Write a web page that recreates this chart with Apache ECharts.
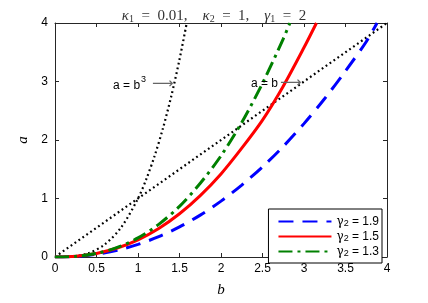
<!DOCTYPE html>
<html>
<head>
<meta charset="utf-8">
<script src="https://cdn.jsdelivr.net/npm/echarts@6/dist/echarts.min.js"></script>
<style>html,body{margin:0;padding:0;background:#fff;}#c{width:428px;height:303px;}</style>
</head>
<body>
<div id="c"></div>
<script>
// ---- data ----
const xTicks = [0, 0.5, 1, 1.5, 2, 2.5, 3, 3.5, 4];
const yTicks = [0, 1, 2, 3, 4];

const bBlue  = [0, 0.25, 0.5, 0.75, 1, 1.25, 1.5, 1.75, 2, 2.25, 2.5, 2.75, 3, 3.25, 3.5, 3.75, 3.88];
const aBlue  = [0, 0.011, 0.048, 0.116, 0.215, 0.347, 0.514, 0.716, 0.955, 1.23, 1.54, 1.89, 2.28, 2.71, 3.18, 3.68, 4.0];

const bRed   = [0, 0.25, 0.5, 0.75, 1, 1.25, 1.5, 1.75, 2, 2.25, 2.5, 2.75, 3, 3.15];
const aRed   = [0, 0.013, 0.061, 0.153, 0.294, 0.488, 0.739, 1.05, 1.42, 1.86, 2.34, 2.92, 3.58, 4.0];

const bGreen = [0, 0.25, 0.5, 0.75, 1, 1.25, 1.5, 1.75, 2, 2.25, 2.5, 2.75, 2.83];
const aGreen = [0, 0.012, 0.061, 0.163, 0.326, 0.558, 0.866, 1.26, 1.73, 2.30, 2.97, 3.73, 4.0];

const bLinear = [0, 4];
const aLinear = [0, 4];

const bCubic = [0, 0.2, 0.4, 0.6, 0.8, 1.0, 1.1, 1.2, 1.3, 1.4, 1.5, 1.587];
const aCubic = [0, 0.008, 0.064, 0.216, 0.512, 1.0, 1.331, 1.728, 2.197, 2.744, 3.375, 4.0];

const legendNames = ['γ2 = 1.9', 'γ2 = 1.5', 'γ2 = 1.3'];
const legendLabels = {'γ2 = 1.9': '1.9', 'γ2 = 1.5': '1.5', 'γ2 = 1.3': '1.3'};

function pairs(xs, ys) { return xs.map((x, i) => [x, ys[i]]); }

const chart = echarts.init(document.getElementById('c'), null, {renderer: 'canvas'});
const axisColor = '#262626';
const tickFont = {color: '#000', fontFamily: 'Liberation Sans, Arial, sans-serif', fontSize: 12};

function mkX(pos, show) {
  return {
    type: 'value', min: 0, max: 4, interval: 0.5, position: pos,
    axisLine: {show: true, onZero: false, lineStyle: {color: axisColor, width: 1}},
    axisTick: {show: true, inside: true, length: 4, lineStyle: {color: axisColor, width: 1}},
    axisLabel: Object.assign({show: show, margin: 6}, tickFont),
    splitLine: {show: false},
    name: show ? 'b' : '', nameLocation: 'middle', nameGap: 26,
    nameTextStyle: {fontFamily: 'Liberation Serif, serif', fontStyle: 'italic', fontSize: 15, color: '#000'}
  };
}
function mkY(pos, show) {
  return {
    type: 'value', min: 0, max: 4, interval: 1, position: pos,
    axisLine: {show: true, onZero: false, lineStyle: {color: axisColor, width: 1}},
    axisTick: {show: true, inside: true, length: 4, lineStyle: {color: axisColor, width: 1}},
    axisLabel: Object.assign({show: show, margin: 7}, tickFont),
    splitLine: {show: false},
    name: show ? 'a' : '', nameLocation: 'middle', nameGap: 22,
    nameTextStyle: {fontFamily: 'Liberation Serif, serif', fontStyle: 'italic', fontSize: 15, color: '#000'}
  };
}

const EN = '\u2002', EM = '\u2003';
const option = {
  animation: false,
  backgroundColor: '#fff',
  title: {
    text: '{i|κ}{s|1}{n|' + EN + '=' + EN + '0.01,' + EM + '}{i|κ}{s|2}{n|' + EN + '=' + EN + '1,' + EM + '}{i|γ}{s|1}{n|' + EN + '=' + EN + '2}',
    left: 'center', top: 3,
    textStyle: {
      fontWeight: 'normal',
      rich: {
        i: {fontFamily: 'Liberation Serif, serif', fontStyle: 'italic', fontWeight: 'normal', fontSize: 15, color: '#333'},
        n: {fontFamily: 'Liberation Serif, serif', fontWeight: 'normal', fontSize: 15, color: '#333'},
        s: {fontFamily: 'Liberation Serif, serif', fontWeight: 'normal', fontSize: 10, color: '#333', verticalAlign: 'bottom', padding: [6, 0, 0, 0]}
      }
    }
  },
  grid: {left: 55, right: 41, top: 23, bottom: 37, containLabel: false},
  xAxis: [mkX('bottom', true), mkX('top', false)],
  yAxis: [mkY('left', true), mkY('right', false)],
  legend: {
    orient: 'vertical', right: 46, bottom: 40,
    data: legendNames,
    itemWidth: 53, itemHeight: 10, itemGap: 1,
    padding: [5, 3, 5, 9],
    borderColor: '#000', borderWidth: 1, backgroundColor: '#fff', borderRadius: 0,
    itemStyle: {color: 'transparent', borderColor: 'transparent', borderWidth: 0, opacity: 0},
    formatter: function (name) { return '{g|γ}{s|2}{t| = ' + legendLabels[name] + '}'; },
    textStyle: {
      color: '#000',
      rich: {
        g: {fontFamily: 'DejaVu Serif, serif', fontSize: 12, color: '#000', lineHeight: 13},
        s: {fontFamily: 'Liberation Sans, sans-serif', fontSize: 9, color: '#000', verticalAlign: 'bottom', padding: [5, 0, 0, 0], lineHeight: 13},
        t: {fontFamily: 'Liberation Sans, sans-serif', fontSize: 12, color: '#000', lineHeight: 13}
      }
    }
  },
  series: [
    {name: 'a=b', type: 'line', data: pairs(bLinear, aLinear), symbol: 'none', silent: true,
     lineStyle: {color: '#000', width: 2.2, type: [1.8, 3]}},
    {name: 'a=b^3', type: 'line', data: pairs(bCubic, aCubic), symbol: 'none', smooth: 0.3, silent: true,
     lineStyle: {color: '#000', width: 2.2, type: [1.8, 3]}},
    {name: legendNames[0], type: 'line', data: pairs(bBlue, aBlue), symbol: 'none', smooth: 0.3,
     lineStyle: {color: '#0000ff', width: 3, type: [15, 9]}, itemStyle: {color: '#0000ff'}},
    {name: legendNames[1], type: 'line', data: pairs(bRed, aRed), symbol: 'none', smooth: 0.3,
     lineStyle: {color: '#ff0000', width: 3, type: 'solid'}, itemStyle: {color: '#ff0000'}},
    {name: legendNames[2], type: 'line', data: pairs(bGreen, aGreen), symbol: 'none', smooth: 0.3,
     lineStyle: {color: '#008000', width: 3, type: [14, 5, 3, 5]}, itemStyle: {color: '#008000'}}
  ]
};
chart.setOption(option);

// annotations, anchored at data coordinates
const ann1 = chart.convertToPixel({gridIndex: 0}, [0.70, 2.93]);
const ann2 = chart.convertToPixel({gridIndex: 0}, [2.36, 2.96]);
const annFont = 'Liberation Sans, Arial, sans-serif';
chart.setOption({
  graphic: [
    {type: 'text', x: ann1[0], y: ann1[1], z: 100,
     style: {text: 'a = b', font: '12px ' + annFont, fill: '#000', textVerticalAlign: 'middle'}},
    {type: 'text', x: ann1[0] + 28, y: ann1[1] - 6, z: 100,
     style: {text: '3', font: '9px ' + annFont, fill: '#000', textVerticalAlign: 'middle'}},
    {type: 'text', x: ann1[0] + 39, y: ann1[1] - 1, z: 100,
     style: {text: '⟶', font: '15px DejaVu Sans, sans-serif', fill: '#666', textVerticalAlign: 'middle'}},
    {type: 'text', x: ann2[0], y: ann2[1], z: 100,
     style: {text: 'a = b', font: '12px ' + annFont, fill: '#000', textVerticalAlign: 'middle'}},
    {type: 'text', x: ann2[0] + 29, y: ann2[1] - 1, z: 100,
     style: {text: '⟶', font: '15px DejaVu Sans, sans-serif', fill: '#666', textVerticalAlign: 'middle'}}
  ]
});
</script>
</body>
</html>
